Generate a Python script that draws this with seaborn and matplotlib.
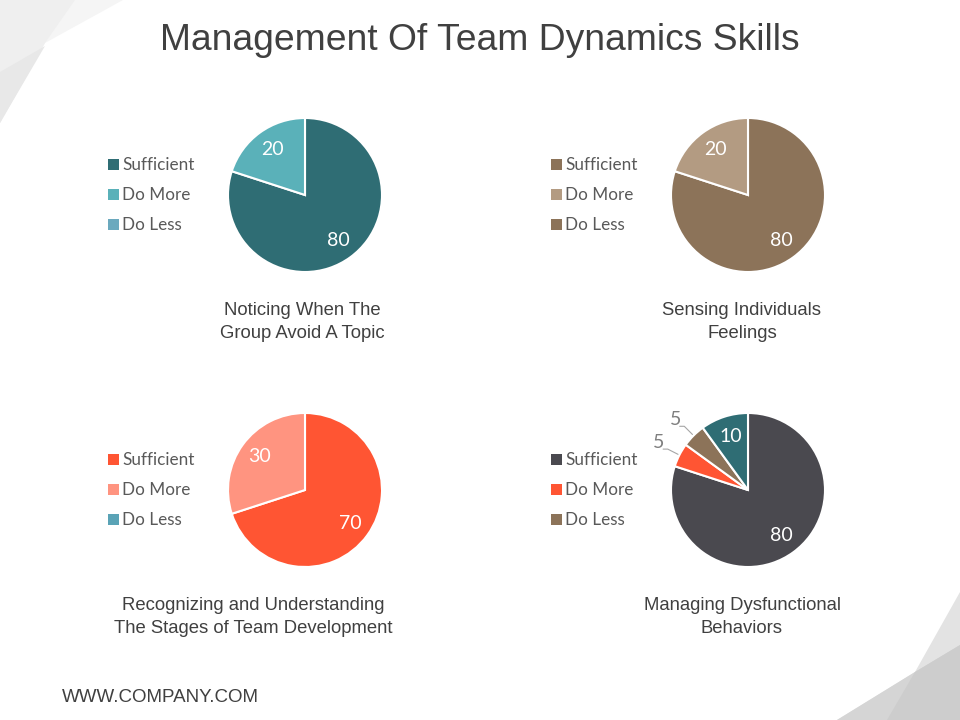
import numpy as np
import seaborn as sns
import matplotlib.pyplot as plt
from matplotlib.patches import Patch, Polygon

sns.set_style("white")
plt.rcParams['font.family'] = ['Liberation Sans', 'DejaVu Sans']

title = 'Management Of Team Dynamics Skills'
footer = 'WWW.COMPANY.COM'
legend_labels = ['Sufficient', 'Do More', 'Do Less']

captions = ['Noticing When The\nGroup Avoid A Topic',
            'Sensing Individuals\nFeelings',
            'Recognizing and Understanding\nThe Stages of Team Development',
            'Managing Dysfunctional\nBehaviors']

# slice values, clockwise from 12 o'clock
values_1 = [80, 20]
values_2 = [80, 20]
values_3 = [70, 30]
values_4 = [80, 5, 5, 10]

colors_1 = ['#2F6D74', '#5AB1B9', '#6BA9BE']
colors_2 = ['#8C7359', '#B39B82', '#8C7359']
colors_3 = ['#FF5533', '#FF9480', '#5AA3B6']
colors_4 = ['#4A494F', '#FF5533', '#8C7359', '#2F6D74']

all_values = [values_1, values_2, values_3, values_4]
all_colors = [colors_1, colors_2, colors_3, colors_4]

fig = plt.figure(figsize=(9.6, 7.2), dpi=100)
W, H = 960, 720


def px(pts):
    return [(x / W, 1 - y / H) for x, y in pts]


def corner(pts, col):
    fig.patches.append(Polygon(px(pts), closed=True, transform=fig.transFigure,
                               color=col, zorder=0, lw=0))


# background corner shapes (overlapping so no seams)
corner([(0, 0), (123, 0), (45, 43), (0, 123)], '#F5F5F5')
corner([(0, 0), (75, 0), (45, 43), (0, 123)], '#EFEFEF')
corner([(0, 72), (45, 46), (0, 123)], '#E8E8E8')
corner([(960, 592), (915, 672), (837, 720), (960, 720)], '#E3E3E3')
corner([(837, 720), (915, 672), (960, 645), (960, 720)], '#D5D5D5')
corner([(887, 720), (915, 672), (960, 645), (960, 720)], '#CDCDCD')

fig.text(0.5, 1 - 40 / H, title, ha='center', va='center', fontsize=26.8, color='#404040')
fig.text(62 / W, 1 - 698 / H, footer, ha='left', va='center', fontsize=13.5, color='#404040')

centres = [(305, 195), (748, 195), (305, 490), (748, 490)]
legend_x = [93, 536, 93, 536]
caption_x = [302, 742, 253, 742]
radius_px = 77

for i, (vals, cols) in enumerate(zip(all_values, all_colors)):
    cx, cy = centres[i]
    ax = fig.add_axes([(cx - radius_px) / W, 1 - (cy + radius_px) / H,
                       2 * radius_px / W, 2 * radius_px / H])
    total = sum(vals)
    wedges, _ = ax.pie(vals, colors=cols[:len(vals)], startangle=90, counterclock=False,
                       wedgeprops=dict(edgecolor='white', linewidth=1.5))
    ax.set_xlim(-1, 1)
    ax.set_ylim(-1, 1)
    ax.axis('off')

    for w, v in zip(wedges, vals):
        mid = np.deg2rad((w.theta1 + w.theta2) / 2)
        if v / total >= 0.1:
            ax.text(0.73 * np.cos(mid), 0.73 * np.sin(mid), str(v), ha='center',
                    va='center', color='white', fontsize=14, family='Lato')
        else:
            x0, y0 = 1.02 * np.cos(mid), 1.02 * np.sin(mid)
            x1, y1 = 1.17 * np.cos(mid), 1.17 * np.sin(mid)
            ax.plot([x0, x1, x1 - 0.06], [y0, y1, y1], color='#A6A6A6', lw=0.8, clip_on=False)
            ax.text(x1 - 0.04, y1 + 0.09, str(v), ha='right', va='center', color='#7F7F7F',
                    fontsize=14, family='Lato', clip_on=False)

    handles = [Patch(facecolor=c, edgecolor='none') for c in cols[:3]]
    fig.legend(handles, legend_labels, loc='upper left',
               bbox_to_anchor=(legend_x[i] / W, 1 - (cy - 53) / H),
               frameon=False, handlelength=0.6, handleheight=0.6, handletextpad=0.2,
               labelspacing=0.82, prop=dict(family='Lato', size=12.3), labelcolor='#595959')

    fig.text(caption_x[i] / W, 1 - (cy + 127) / H, captions[i], ha='center', va='center',
             fontsize=13.3, color='#404040', linespacing=1.4)

fig.savefig('out.png', dpi=100, facecolor='white')
